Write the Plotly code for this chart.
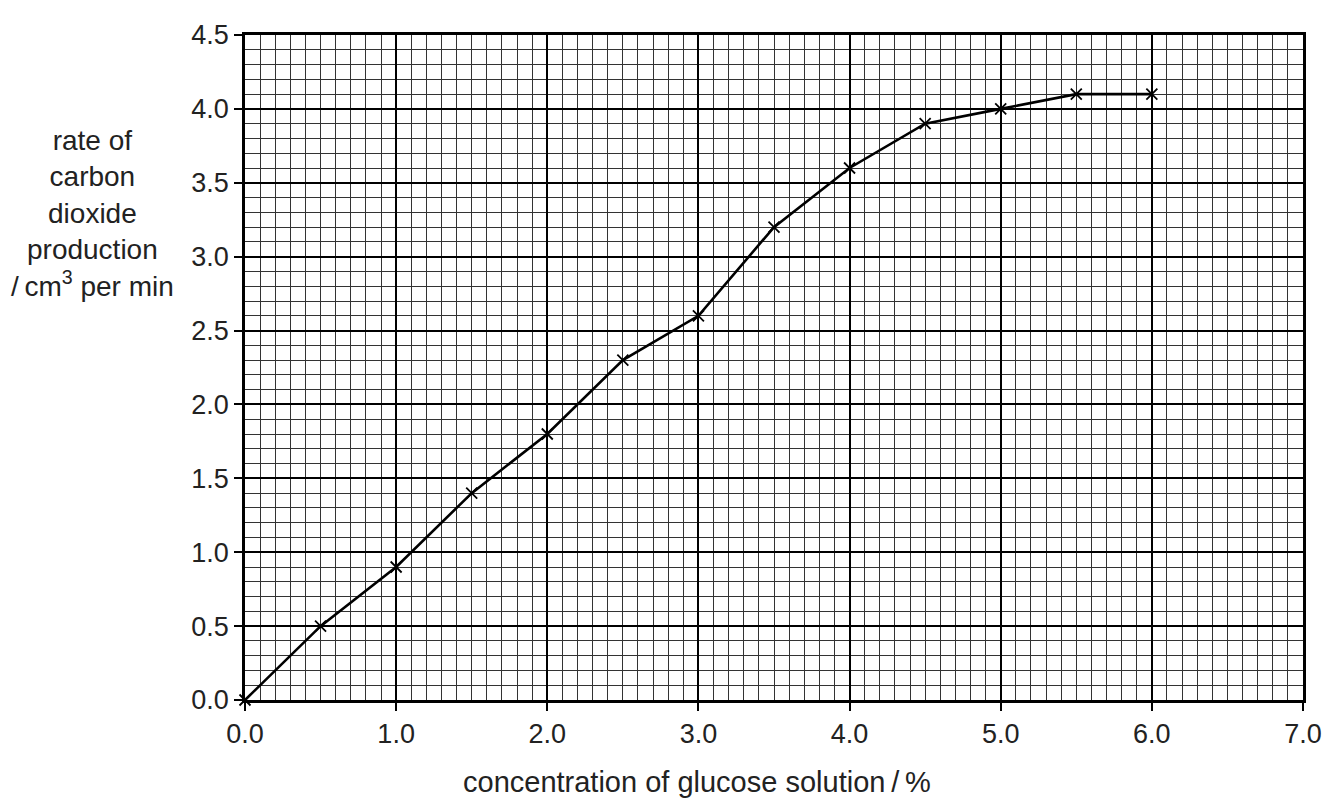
import plotly.graph_objects as go

concentration = [0.0, 0.5, 1.0, 1.5, 2.0, 2.5, 3.0, 3.5, 4.0, 4.5, 5.0, 5.5, 6.0]
co2_rate = [0.0, 0.5, 0.9, 1.4, 1.8, 2.3, 2.6, 3.2, 3.6, 3.9, 4.0, 4.1, 4.1]
x_ticks = [0, 1, 2, 3, 4, 5, 6, 7]
y_ticks = [0, 0.5, 1.0, 1.5, 2.0, 2.5, 3.0, 3.5, 4.0, 4.5]

FONT = "Liberation Sans, Arial, Helvetica, sans-serif"

fig = go.Figure()
fig.add_trace(go.Scatter(
    x=concentration, y=co2_rate, mode="lines+markers",
    line=dict(color="black", width=2.6),
    marker=dict(symbol="x-thin", size=11, line=dict(color="black", width=1.8)),
    showlegend=False, cliponaxis=False,
))

axis_common = dict(
    showline=True, linecolor="black", linewidth=2.5, mirror=True,
    ticks="outside", ticklen=8, tickwidth=2, tickcolor="black",
    showgrid=True, gridcolor="black", gridwidth=1.8,
    zeroline=False,
    tickfont=dict(family=FONT, size=27, color="#222"),
)

fig.update_xaxes(
    range=[0, 7], tickvals=x_ticks,
    ticktext=[f"{v:.1f}" for v in x_ticks],
    minor=dict(dtick=0.1, showgrid=True, gridcolor="#333", gridwidth=1, ticks=""),
    **axis_common,
)
fig.update_yaxes(
    range=[0, 4.5], tickvals=y_ticks,
    ticktext=[f"{v:.1f}" for v in y_ticks],
    minor=dict(dtick=0.1, showgrid=True, gridcolor="#333", gridwidth=1, ticks=""),
    **axis_common,
)

fig.add_annotation(
    text="rate of<br>carbon<br>dioxide<br>production<br>/\u2009cm<sup>3</sup> per min",
    xref="paper", yref="paper", x=-0.1437, y=0.731, xanchor="center", yanchor="middle",
    showarrow=False, align="center",
    font=dict(family=FONT, size=28, color="#222"),
)
fig.add_annotation(
    text="concentration of glucose solution\u2009/\u2009%",
    xref="paper", yref="paper", x=0.427, y=-0.124, xanchor="center", yanchor="middle",
    showarrow=False,
    font=dict(family=FONT, size=29, color="#222"),
)

fig.update_layout(
    width=1333, height=792,
    margin=dict(l=237, r=38, t=12, b=100),
    paper_bgcolor="white", plot_bgcolor="white",
)

fig.write_html("out.html")
